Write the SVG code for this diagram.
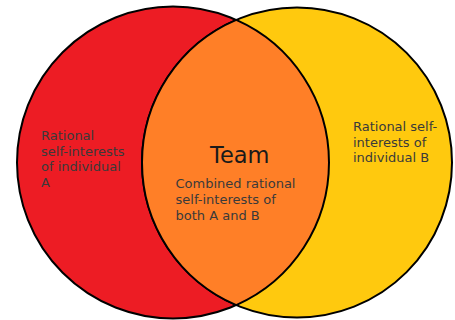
<svg xmlns="http://www.w3.org/2000/svg" width="455" height="320" viewBox="0 0 455 320">
<style>
.c{stroke:#000;stroke-width:2}
.t{font-family:"DejaVu Sans",Verdana,sans-serif;font-size:13px;fill:#3a3a3a}
</style>
<rect width="455" height="320" fill="#fff"/>
<g id="individual-a">
<circle class="c" cx="173" cy="162.5" r="156" fill="#ED1C24"/>
</g>
<g id="individual-b">
<circle class="c" cx="297" cy="162.5" r="155" fill="#FFC90E"/>
</g>
<g id="team">
<path class="c" d="M236.25,19.9 A155,155 0 0,0 236.25,305.1 A156,156 0 0,0 236.25,19.9 Z" fill="#FF7F27"/>
</g>
<g id="label-a">
<text class="t" x="41" y="140">Rational</text>
<text class="t" x="41" y="155.7">self-interests</text>
<text class="t" x="41" y="171.4">of individual</text>
<text class="t" x="41" y="187.1">A</text>
</g>
<g id="label-b">
<text class="t" x="353" y="131">Rational self-</text>
<text class="t" x="353" y="146.7">interests of</text>
<text class="t" x="353" y="162.4">individual B</text>
</g>
<g id="label-team">
<text x="210" y="163" style="font-family:'DejaVu Sans',Verdana,sans-serif;font-size:22.5px;fill:#1a1a1a">Team</text>
<text class="t" x="175.5" y="188.3">Combined rational</text>
<text class="t" x="175.5" y="204">self-interests of</text>
<text class="t" x="175.5" y="219.7">both A and B</text>
</g>
</svg>
